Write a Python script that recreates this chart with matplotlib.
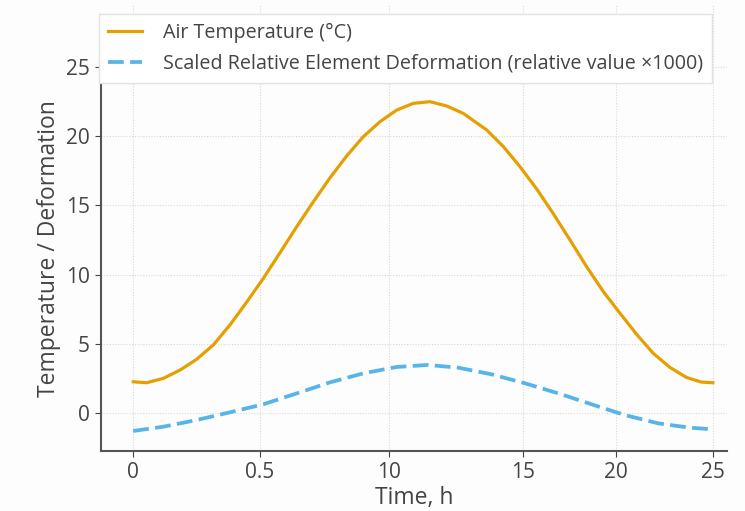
import matplotlib
matplotlib.use("Agg")
import matplotlib.pyplot as plt

# Data (x in hours, as placed on the original axis)
time_air = [0.0, 0.58, 1.3, 2.02, 2.73, 3.45, 4.17, 4.89, 5.61, 6.33, 7.05, 7.77,
            8.49, 9.2, 9.92, 10.64, 11.36, 12.08, 12.8, 13.52, 14.24, 15.25, 15.97,
            16.68, 17.4, 18.12, 18.84, 19.56, 20.28, 21.0, 21.71, 22.43, 23.15,
            23.87, 24.5, 25.0]
air_temp = [2.24, 2.17, 2.49, 3.09, 3.86, 4.9, 6.35, 8.0, 9.72, 11.58, 13.46, 15.27,
            17.01, 18.57, 19.97, 21.06, 21.9, 22.39, 22.51, 22.2, 21.66, 20.46, 19.25,
            17.81, 16.2, 14.4, 12.5, 10.56, 8.76, 7.19, 5.68, 4.3, 3.28,
            2.55, 2.22, 2.17]

time_def = [0.0, 1.3, 2.73, 4.17, 5.61, 7.05, 8.49, 9.92, 11.36, 12.7, 14.02, 15.46,
            16.9, 18.34, 19.77, 21.21, 22.65, 24.0, 25.0]
deformation = [-1.32, -1.01, -0.53, 0.03, 0.61, 1.4, 2.2, 2.85, 3.31, 3.46, 3.26, 2.78,
               2.13, 1.4, 0.61, -0.17, -0.77, -1.08, -1.2]

xtick_pos = [0, 5.47, 11.05, 16.8, 20.82, 25]
xtick_labels = ["0", "0.5", "10", "15", "20", "25"]
ytick_vals = [0, 5, 10, 15, 20, 25]

plt.rcParams['font.family'] = ['Open Sans', 'DejaVu Sans']

fig = plt.figure(figsize=(7.45, 5.11), dpi=100)
fig.patch.set_facecolor("#fdfdfd")
ax = fig.add_axes([0.1356, 0.1174, 0.9758 - 0.1356, 0.990 - 0.1174])
ax.set_facecolor("#fdfdfd")

ax.plot(time_air, air_temp, color="#E69F00", lw=2.3, label="Air Temperature (°C)",
        solid_joinstyle="round")
ax.plot(time_def, deformation, color="#56B4E9", lw=2.7, ls=(0, (4.2, 1.7)),
        label="Scaled Relative Element Deformation (relative value ×1000)")

ylo, yhi = -2.77, 29.5
ax.set_xlim(-1.39, 25.61)
ax.set_ylim(ylo, yhi)
ax.set_xticks(xtick_pos)
ax.set_xticklabels(xtick_labels)
ax.set_yticks(ytick_vals)

ax.grid(True, color="#d8d8d8", ls=(0, (1, 1.5)), lw=0.8)
for s in ["top", "right"]:
    ax.spines[s].set_visible(False)
for s in ["left", "bottom"]:
    ax.spines[s].set_color("#555555")
    ax.spines[s].set_linewidth(1.5)
ax.spines["left"].set_bounds(ylo, 28.8)
ax.tick_params(colors="#444444", labelsize=15, length=4, width=0.8, pad=4)

ax.set_xlabel("Time, h", fontsize=16.5, color="#444444", labelpad=2)
ax.set_ylabel("Temperature / Deformation", fontsize=16.5, color="#444444")
ax.yaxis.set_label_coords(-0.064, 0.453)

leg = ax.legend(loc="upper left", bbox_to_anchor=(-0.0025, 0.980), fontsize=14.2,
                frameon=True, fancybox=False, framealpha=1, edgecolor="#e2e2e2",
                borderpad=0.45, handlelength=1.7, handletextpad=1.05,
                labelspacing=0.55, borderaxespad=0)
leg.set_zorder(10)
leg.get_frame().set_linewidth(1.0)
for t in leg.get_texts():
    t.set_color("#444444")

fig.savefig("out.png", dpi=100, facecolor=fig.get_facecolor())
